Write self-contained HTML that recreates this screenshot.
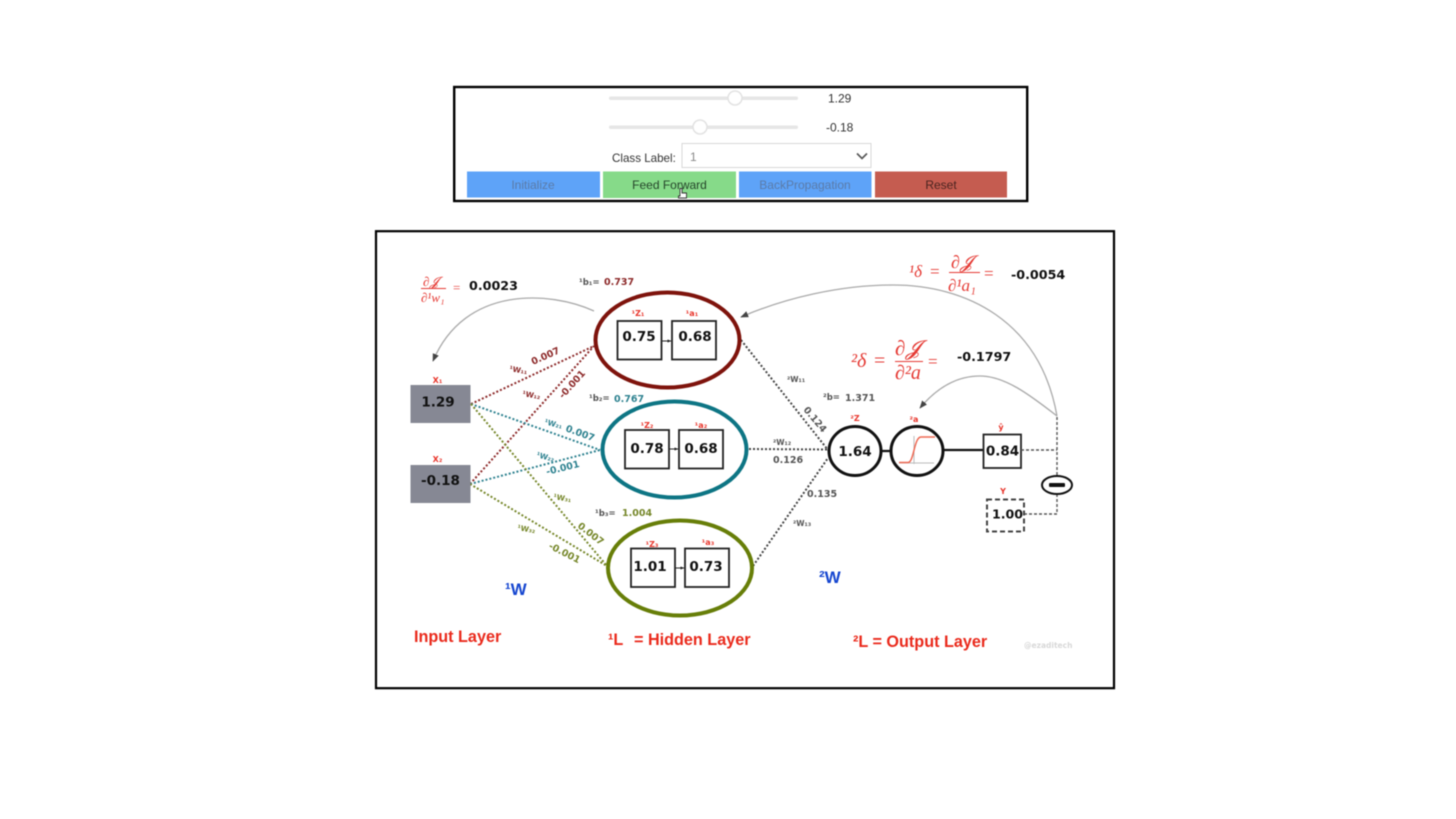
<!DOCTYPE html>
<html><head><meta charset="utf-8"><style>
html,body{margin:0;padding:0;background:#fff;width:1456px;height:819px;overflow:hidden}
svg{display:block;filter:blur(.55px)}
text{font-family:"DejaVu Sans",sans-serif}
.ui,.ui text{font-family:"Liberation Sans",sans-serif;font-size:12px;fill:#333}
.v{font-weight:bold;font-size:13.5px;fill:#111;text-anchor:middle}
.r{font-weight:bold;font-size:8px;fill:#e8352b;text-anchor:middle}
.m,.m text{font-family:"Liberation Serif",serif;fill:#e53a34}
.i{font-style:italic}
.g{font-weight:bold;fill:#555}
.big{font-weight:bold;font-family:"Liberation Sans",sans-serif;fill:#ea2a1c;font-size:16.2px}
.bl{font-weight:bold;font-family:"Liberation Sans",sans-serif;fill:#1646d0;font-size:17px}
</style></head><body>
<svg width="1456" height="819" viewBox="0 0 1456 819" xmlns="http://www.w3.org/2000/svg">
<defs>
<marker id="a" viewBox="0 0 10 10" refX="9" refY="5" markerWidth="8" markerHeight="8" markerUnits="userSpaceOnUse" orient="auto"><path d="M0 1L10 5L0 9Z" fill="#444"/></marker>
<marker id="s" viewBox="0 0 10 10" refX="9" refY="5" markerWidth="4" markerHeight="4" markerUnits="userSpaceOnUse" orient="auto"><path d="M0 1L10 5L0 9Z" fill="#222"/></marker>
</defs>

<!-- Control panel -->
<rect x="454.200" y="87" width="573" height="114" fill="#fff" stroke="#000" stroke-width="2.400"/>
<rect x="609" y="96.500" width="189" height="3.500" rx="1.700" fill="#e6e6e6"/>
<circle cx="735" cy="98" r="7" fill="#fff" stroke="#e2e2e2" stroke-width="1.500"/>
<rect x="609" y="125.500" width="189" height="3.500" rx="1.700" fill="#e6e6e6"/>
<circle cx="700" cy="127" r="7" fill="#fff" stroke="#e2e2e2" stroke-width="1.500"/>
<text class="ui" x="828" y="102.500">1.29</text>
<text class="ui" x="826" y="131.500">-0.18</text>
<text class="ui" x="612" y="162" style="font-size:11.600px">Class Label:</text>
<rect x="682" y="143.500" width="189" height="24" fill="#fff" stroke="#d8d8d8"/>
<text class="ui" x="690" y="161" style="fill:#888">1</text>
<path d="M857 153.500L862 158.500L867 153.500" fill="none" stroke="#555" stroke-width="1.600"/>
<rect x="467" y="171.500" width="133" height="26" fill="#5ea3f8"/>
<rect x="603" y="171.500" width="133" height="26.500" fill="#86da89"/>
<rect x="739" y="171.500" width="132.500" height="26" fill="#5ea3f8"/>
<rect x="875" y="171.500" width="132" height="26" fill="#c55c50"/>
<g class="ui" text-anchor="middle">
<text x="533" y="189" style="fill:#5b7ba8">Initialize</text>
<text x="669.500" y="189" style="fill:#25452a">Feed Forward</text>
<text x="805" y="189" style="fill:#5b7ba8">BackPropagation</text>
<text x="941" y="189" style="fill:#4b2420">Reset</text>
</g>
<path d="M680 188.500v7.500h-1.500v2h8v-5h-4.500v-4.500z" fill="#fff" stroke="#333" stroke-width=".9"/>

<!-- Diagram frame -->
<rect x="376" y="231.200" width="738" height="457" fill="#fff" stroke="#000" stroke-width="2.200"/>

<!-- Weights -->
<g fill="none" stroke-width="2" stroke-dasharray="2 2">
<g stroke="#8d2a2a"><path d="M471 404L594 346"/><path d="M470 484L594 346"/></g>
<g stroke="#2e8290"><path d="M471 404L600 450"/><path d="M470 484L600 450"/></g>
<g stroke="#76872a"><path d="M471 404L607 566"/><path d="M470 484L607 566"/></g>
<g stroke="#444"><path d="M741 340L828 450"/><path d="M749 449L828 449.500"/><path d="M753 566L828 458"/></g>
</g>

<!-- Hidden ellipses -->
<g fill="#fff" stroke-width="4">
<ellipse cx="667.500" cy="340" rx="72" ry="47.500" stroke="#7e130c"/>
<ellipse cx="674.500" cy="449.500" rx="72" ry="48" stroke="#0d7584"/>
<ellipse cx="680" cy="568" rx="72" ry="47.500" stroke="#677e08"/>
</g>
<g fill="#fff" stroke="#222" stroke-width="1.800">
<rect x="617.500" y="321" width="44" height="38.500"/><rect x="672" y="321" width="44" height="38.500"/>
<rect x="625" y="430" width="44" height="38.500"/><rect x="679" y="430" width="44" height="38.500"/>
<rect x="631" y="548.500" width="44" height="38.500"/><rect x="685" y="548.500" width="44" height="38.500"/>
</g>
<g stroke="#222" stroke-width="1">
<path d="M662 341H671" marker-end="url(#s)"/><path d="M669 449H678" marker-end="url(#s)"/><path d="M675 568H684" marker-end="url(#s)"/>
</g>
<g class="v">
<text x="639" y="341">0.75</text><text x="695" y="341">0.68</text>
<text x="647" y="453">0.78</text><text x="701" y="453">0.68</text>
<text x="650" y="571">1.01</text><text x="706" y="571">0.73</text>
</g>
<g class="r">
<text x="638" y="316">¹Z₁</text><text x="692" y="316">¹a₁</text>
<text x="647" y="428">¹Z₂</text><text x="701" y="428">¹a₂</text>
<text x="652" y="547">¹Z₃</text><text x="708" y="545">¹a₃</text>
</g>

<!-- Inputs -->
<rect x="410.500" y="385" width="60" height="38" fill="#868894"/>
<rect x="410.500" y="465" width="60" height="38" fill="#868894"/>
<text class="v" x="438" y="406.500">1.29</text>
<text class="v" x="440.500" y="485">-0.18</text>
<text class="r" x="437.500" y="383">X₁</text>
<text class="r" x="437.500" y="462">X₂</text>

<!-- Weight labels -->
<g font-size="9.500" font-weight="bold">
<g fill="#8d2a2a">
<text transform="translate(509 371) rotate(10)" font-size="7.500">¹W₁₁</text>
<text transform="translate(533 365) rotate(-24)">0.007</text>
<text transform="translate(522 396) rotate(10)" font-size="7.500">¹W₁₂</text>
<text transform="translate(563 399) rotate(-48)">-0.001</text>
</g>
<g fill="#2e8290">
<text transform="translate(544 424) rotate(15)" font-size="7.500">¹W₂₁</text>
<text transform="translate(565 431) rotate(20)">0.007</text>
<text transform="translate(536 457) rotate(15)" font-size="7.500">¹W₂₂</text>
<text transform="translate(547 475) rotate(-14)">-0.001</text>
</g>
<g fill="#76872a">
<text transform="translate(553 499) rotate(10)" font-size="7.500">¹W₃₁</text>
<text transform="translate(577 527) rotate(38)">0.007</text>
<text transform="translate(517 530) rotate(10)" font-size="7.500">¹W₃₂</text>
<text transform="translate(548 548) rotate(27)">-0.001</text>
</g>
</g>
<g font-size="9.500" font-weight="bold">
<text x="579" y="285" fill="#555" font-size="8.500">¹b₁=</text><text x="604" y="285" fill="#8d2a2a">0.737</text>
<text x="589" y="401" fill="#555" font-size="8.500">¹b₂=</text><text x="614" y="402" fill="#2e8290">0.767</text>
<text x="595" y="516" fill="#555" font-size="8.500">¹b₃=</text><text x="622" y="516" fill="#76872a">1.004</text>
<text x="823" y="400" fill="#555" font-size="8.500">²b=</text><text x="845" y="401" fill="#555">1.371</text>
</g>
<g class="g" font-size="9.500">
<text x="787" y="382" font-size="7.500">²W₁₁</text>
<text transform="translate(803 410) rotate(50)">0.124</text>
<text x="773" y="445" font-size="7.500">²W₁₂</text>
<text x="773" y="463">0.126</text>
<text x="807" y="497">0.135</text>
<text x="793" y="526" font-size="7.500">²W₁₃</text>
</g>

<!-- Output -->
<path d="M881 451H891M943 450H983" stroke="#111" stroke-width="2.200"/>
<ellipse cx="855" cy="451" rx="26" ry="24.500" fill="#fff" stroke="#111" stroke-width="3"/>
<ellipse cx="917" cy="451" rx="26" ry="24.500" fill="#fff" stroke="#111" stroke-width="3"/>
<path d="M914 436V464M899 463H934" stroke="#bbb" stroke-width="1"/>
<path d="M899 462.500H908C914 462.500 914 437 921 437H935" fill="none" stroke="#ef6a55" stroke-width="1.500"/>
<text class="v" x="855" y="456">1.64</text>
<rect x="983.500" y="434.500" width="37.500" height="33.500" fill="#fff" stroke="#222" stroke-width="1.800"/>
<text class="v" x="1002.500" y="455.500">0.84</text>
<path d="M1021 450H1057M1057 417V476M1057 494V514H1024" fill="none" stroke="#555" stroke-width="1.400" stroke-dasharray="3 2"/>
<rect x="987" y="499.500" width="37" height="32" fill="#fff" stroke="#444" stroke-width="2" stroke-dasharray="5 3"/>
<text class="v" x="1007.500" y="518.500" style="font-size:12.600px">1.00</text>
<ellipse cx="1057" cy="485" rx="15" ry="9" fill="#fff" stroke="#111" stroke-width="2"/>
<rect x="1049" y="483" width="16" height="4" rx="1" fill="#111"/>
<g class="r">
<text x="855" y="421">²Z</text><text x="914" y="422">²a</text><text x="1001" y="430">ŷ</text><text x="1003" y="494">Y</text>
</g>

<!-- Backprop arcs -->
<g fill="none" stroke="#aaa" stroke-width="1.300">
<path d="M594 311C550 291 465 285 433 361" marker-end="url(#a)"/>
<path d="M1057 416C1040 320 965 285 893 285C840 285 785 298 741 317" marker-end="url(#a)"/>
<path d="M1057 416C1030 395 1005 376 980 376C955 376 935 390 920 408" marker-end="url(#a)"/>
</g>

<!-- Formulas -->
<g class="m">
<text x="423" y="286" font-size="13" class="i">∂𝓙</text>
<path d="M421 288.500H446" stroke="#e53a34"/>
<text x="421" y="302" font-size="13" class="i">∂¹w₁</text>
<text x="453" y="292" font-size="13">=</text>

<text x="909" y="277" font-size="17"><tspan class="i">¹δ</tspan></text>
<text x="930" y="277" font-size="17">=</text>
<text x="951" y="268" font-size="18" class="i">∂𝓙</text>
<path d="M949 272.500H980" stroke="#e53a34"/>
<text x="948" y="291" font-size="17" class="i">∂¹a₁</text>
<text x="984" y="279" font-size="17">=</text>

<text x="851" y="367" font-size="20"><tspan class="i">²δ</tspan></text>
<text x="874" y="367" font-size="20">=</text>
<text x="895" y="355" font-size="21" class="i">∂𝓙</text>
<path d="M895 361.500H923" stroke="#e53a34"/>
<text x="895" y="379" font-size="20" class="i">∂²a</text>
<text x="928" y="367" font-size="17">=</text>
</g>
<g font-weight="bold" font-size="12.700" fill="#111">
<text x="469" y="290">0.0023</text>
<text x="1011" y="279">-0.0054</text>
<text x="957" y="361">-0.1797</text>
</g>

<!-- Titles -->
<text class="bl" x="505" y="595">¹W</text>
<text class="bl" x="819" y="583">²W</text>
<text class="big" x="414" y="642">Input Layer</text>
<text class="big" x="608" y="645">¹L</text>
<text class="big" x="634" y="645">= Hidden Layer</text>
<text class="big" x="853" y="647">²L = Output Layer</text>
<text x="1024" y="648" font-size="7.500" fill="#d8d8d8" font-weight="bold">@ezaditech</text>
</svg>
</body></html>
